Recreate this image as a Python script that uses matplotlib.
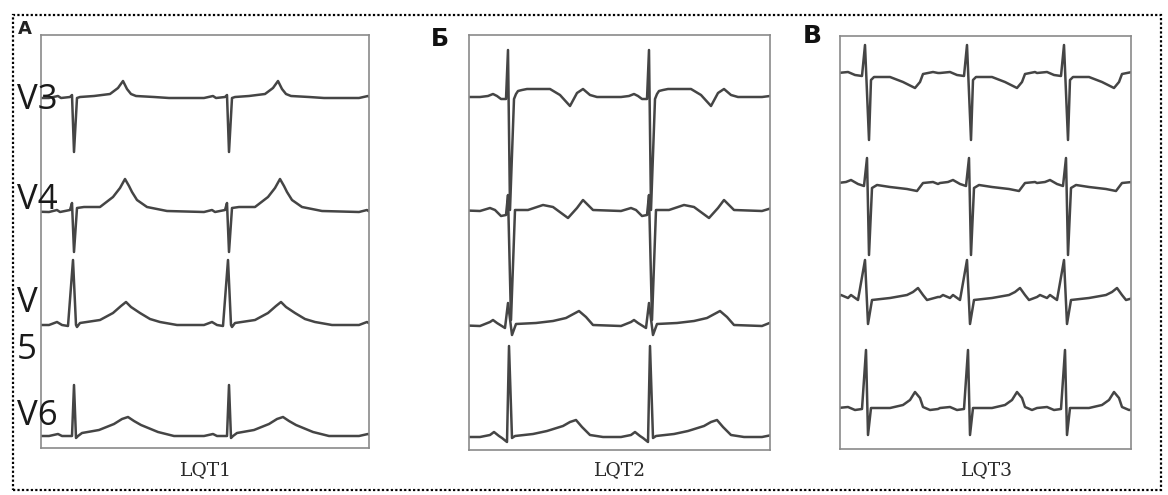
import numpy as np
import matplotlib.pyplot as plt
from matplotlib.patches import Rectangle

# ---- data ----
# beat templates: (time from R wave, amplitude above baseline), one cardiac cycle each
# LQT1 (panel A), leads V3..V6
lqt1_r_times = [-122, 33, 188, 343]
lqt1_baselines = [63, 177, 290, 401]
lqt1_v3 = [(-25, 0), (-16, 2), (-13, 0), (-4, 1), (-2, 3), (0, -54), (3, 0), (6, 1),
           (20, 2), (36, 4), (44, 10), (49, 17), (53, 9), (57, 4), (62, 2), (80, 1), (95, 0), (130, 0)]
lqt1_v4 = [(-25, 0), (-17, 2), (-14, 0), (-4, 2), (-2, 9), (0, -40), (3, 4), (10, 5), (26, 5),
           (39, 15), (46, 24), (51, 33), (55, 26), (58, 20), (63, 12), (73, 5), (93, 1), (130, 0)]
lqt1_v5 = [(-25, 0), (-17, 3), (-12, 0), (-6, -1), (-1, 65), (2, 0), (3, -2), (6, 2), (26, 5),
           (39, 12), (47, 19), (52, 23), (57, 18), (66, 12), (76, 6), (86, 3), (103, 0), (130, 0)]
lqt1_v6 = [(-25, 0), (-16, 2), (-12, 0), (-2, 0), (0, 51), (2, -2), (4, 0), (8, 3), (25, 6),
           (40, 12), (48, 17), (54, 19), (60, 15), (67, 11), (84, 4), (100, 0), (130, 0)]

# LQT2 (panel Б)
lqt2_r_times = [-102, 39, 180, 321]
lqt2_baselines = [62, 175, 288, 401]
lqt2_lead1 = [(-28, 0), (-20, 1), (-15, 3), (-11, 1), (-7, -2), (-2, -2), (0, 47), (2, -113),
              (6, -2), (8, 3), (10, 6), (14, 7), (19, 8), (42, 8), (52, 2), (62, -9), (69, 4),
              (75, 8), (82, 2), (89, 0), (113, 0)]
lqt2_lead2 = [(-28, -1), (-18, 2), (-13, 0), (-7, -6), (-2, -5), (0, 15), (3, -110), (7, 0),
              (20, 0), (35, 5), (45, 3), (60, -8), (69, 2), (75, 10), (85, 0), (113, -1)]
lqt2_lead3 = [(-28, -3), (-18, 1), (-15, 3), (-11, 0), (-3, -5), (0, 20), (4, -12), (8, -1),
              (28, 0), (45, 2), (58, 5), (71, 12), (78, 6), (85, -2), (113, -3)]
lqt2_lead4 = [(-28, -1), (-18, 1), (-14, 4), (-9, 0), (-6, -2), (-1, -6), (1, 90), (4, -2),
              (7, 0), (25, 2), (39, 5), (55, 10), (62, 14), (68, 16), (74, 9), (82, 1),
              (95, -1), (113, -2)]

# LQT3 (panel В)
lqt3_r_times = [-74, 26, 128, 225]
lqt3_baselines = [40, 149, 262, 374]
lqt3_lead1 = [(-28, 3), (-18, 4), (-11, 1), (-4, 0), (-1, 31), (3, -64), (5, -4), (8, -1),
              (24, -1), (37, -6), (49, -12), (54, -6), (57, 2), (67, 4), (72, 3)]
lqt3_lead2 = [(-28, 2), (-20, 3), (-15, 5), (-8, 1), (-2, -1), (1, 27), (3, -70), (6, -3),
              (11, 0), (24, -2), (41, -4), (51, -6), (57, 2), (67, 3), (72, 1)]
lqt3_lead3 = [(-28, 1), (-25, 3), (-18, 0), (-15, 3), (-8, -2), (-1, 38), (2, -26), (6, -2),
              (24, 0), (41, 3), (47, 6), (52, 10), (57, 3), (61, -2), (72, 1)]
lqt3_lead4 = [(-28, 2), (-18, 3), (-11, 0), (-4, 1), (0, 60), (2, -25), (5, 2), (24, 2),
              (37, 5), (44, 10), (49, 18), (54, 12), (57, 3), (64, 0), (72, 1)]

panel_titles = ["LQT1", "LQT2", "LQT3"]
panel_letters = ["A", "Б", "В"]
lead_names = ["V3", "V4", "V", "5", "V6"]

W, H = 1168, 495
fig = plt.figure(figsize=(W / 100, H / 100), dpi=100)


def px_rect(left, top, right, bottom):
    return [left / W, 1 - bottom / H, (right - left) / W, (bottom - top) / H]


def build_trace(template, r_times):
    xs, ys = [], []
    for i, r in enumerate(r_times):
        stop = r_times[i + 1] + template[0][0] if i + 1 < len(r_times) else np.inf
        for t, v in template:
            if r + t < stop:
                xs.append(r + t)
                ys.append(v)
    return np.array(xs), np.array(ys)


panels = [
    (px_rect(41, 35, 369, 448), lqt1_r_times, lqt1_baselines, [lqt1_v3, lqt1_v4, lqt1_v5, lqt1_v6]),
    (px_rect(469, 35, 770, 450), lqt2_r_times, lqt2_baselines, [lqt2_lead1, lqt2_lead2, lqt2_lead3, lqt2_lead4]),
    (px_rect(840, 36, 1131, 449), lqt3_r_times, lqt3_baselines, [lqt3_lead1, lqt3_lead2, lqt3_lead3, lqt3_lead4]),
]

for rect, r_times, baselines, leads in panels:
    ax = fig.add_axes(rect)
    ax.set_xlim(0, rect[2] * W)
    ax.set_ylim(-rect[3] * H, 0)
    for base, tmpl in zip(baselines, leads):
        xs, ys = build_trace(tmpl, r_times)
        ax.plot(xs, ys - base, color="#454545", lw=1.8,
                solid_joinstyle="round", solid_capstyle="round")
    ax.set_xticks([])
    ax.set_yticks([])
    for s in ax.spines.values():
        s.set_color("#8a8a8a")
        s.set_linewidth(1.2)

# outer dotted frame
fig.add_artist(Rectangle((13 / W, 1 - 490 / H), (1161 - 13) / W, (490 - 15) / H,
                         transform=fig.transFigure, fill=False, color="black",
                         lw=1.6, linestyle=(0, (1, 1))))

# panel letters
fig.text(25 / W, 1 - 29 / H, panel_letters[0], fontsize=13, fontweight="bold",
         ha="center", va="center", color="#222222")
fig.text(440 / W, 1 - 39 / H, panel_letters[1], fontsize=17, fontweight="bold",
         ha="center", va="center", color="#111111")
fig.text(812 / W, 1 - 36 / H, panel_letters[2], fontsize=18, fontweight="bold",
         ha="center", va="center", color="#111111")

# lead names on panel A
lead_y = [100, 200, 303, 350, 416]
for name, y in zip(lead_names, lead_y):
    fig.text(17 / W, 1 - y / H, name, fontsize=25, family="Open Sans",
             ha="left", va="center", color="#1a1a1a")

# panel titles below frames
for title, x in zip(panel_titles, [206, 620, 987]):
    fig.text(x / W, 1 - 470 / H, title, fontsize=13.5, family="DejaVu Serif",
             ha="center", va="center", color="#2a2a2a")

fig.savefig("out.png", dpi=100)
